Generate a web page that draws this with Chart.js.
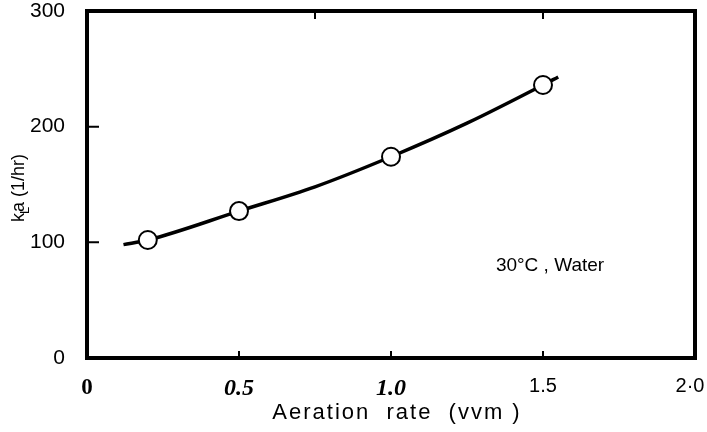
<!DOCTYPE html>
<html>
<head>
<meta charset="utf-8">
<title>kLa vs aeration rate</title>
<script src="https://cdn.jsdelivr.net/npm/chart.js@4/dist/chart.umd.min.js"></script>
<style>
  html, body { margin: 0; padding: 0; background: #fff; }
  #wrap { width: 707px; height: 432px; }
</style>
</head>
<body>
<div id="wrap"><canvas id="chart"></canvas></div>
<script>
// measured points (30 C, water)
var aeration = [0.2, 0.5, 1.0, 1.5];
var kLa = [102, 127, 174, 236];

// fitted curve through the points
var curveX = [0.12, 0.2, 0.5, 0.75, 1.0, 1.25, 1.5, 1.55];
var curveY = [98, 102, 127, 148, 174, 203, 236, 243];

// axis ticks
var xTickValues = [0, 0.5, 1.0, 1.5, 2.0];
var xTickLabels = ['0', '0.5', '1.0', '1.5', '2\u00b70\u2002'];
var yTickValues = [0, 100, 200, 300];

var sans = '"Liberation Sans", Arial, sans-serif';
var serif = '"Liberation Serif", "Times New Roman", serif';

function toXY(xs, ys) {
    var out = [];
    for (var i = 0; i < xs.length; i++) {
        out.push({x: xs[i], y: ys[i]});
    }
    return out;
}

// frame, inward tick marks and the free text
const framePlugin = {
    id: 'frame_and_text',
    afterDraw: (chart) => {
        const ctx = chart.ctx;
        const a = chart.chartArea;
        const xs = chart.scales.x;
        const ys = chart.scales.y;
        ctx.save();
        ctx.strokeStyle = '#000';
        ctx.lineWidth = 4;
        ctx.lineCap = 'square';
        ctx.strokeRect(a.left, a.top, a.right - a.left, a.bottom - a.top);

        ctx.lineWidth = 2;
        ctx.lineCap = 'butt';
        ctx.beginPath();
        [100, 200].forEach(function (v) {
            var py = ys.getPixelForValue(v);
            ctx.moveTo(a.left, py);
            ctx.lineTo(a.left + 12, py);
        });
        [0.5, 1.0, 1.5].forEach(function (v) {
            var px = xs.getPixelForValue(v);
            ctx.moveTo(px, a.bottom);
            ctx.lineTo(px, a.bottom - 7);
        });
        [0.75, 1.5].forEach(function (v) {
            var px = xs.getPixelForValue(v);
            ctx.moveTo(px, a.top);
            ctx.lineTo(px, a.top + 8);
        });
        ctx.stroke();

        ctx.fillStyle = '#000';

        // x axis title
        ctx.letterSpacing = '2px';
        ctx.font = '22px ' + sans;
        ctx.textAlign = 'center';
        ctx.textBaseline = 'middle';
        ctx.fillText('Aeration  rate  (vvm )', (a.left + a.right) / 2 + 6, 413);

        // condition label
        ctx.letterSpacing = '0px';
        ctx.font = '19px ' + sans;
        ctx.textAlign = 'left';
        ctx.fillText('30\u00b0C , Water', xs.getPixelForValue(1.345), ys.getPixelForValue(80));

        // y axis title with subscript L
        ctx.translate(24, 222);
        ctx.rotate(-Math.PI / 2);
        ctx.textBaseline = 'alphabetic';
        ctx.font = '18px ' + sans;
        ctx.fillText('k', 0, 0);
        var kw = ctx.measureText('k').width;
        ctx.font = '13px ' + sans;
        ctx.fillText('L', kw - 1, 5);
        ctx.font = '18px ' + sans;
        ctx.fillText('a (1/hr)', kw + 1, 0);
        ctx.restore();
    }
};

var ctx = document.getElementById('chart').getContext('2d');
var myChart = new Chart(ctx, {
    type: 'scatter',
    data: {
        datasets: [{
            label: 'curve',
            data: toXY(curveX, curveY),
            showLine: true,
            borderColor: '#000',
            borderWidth: 3.5,
            pointRadius: 0,
            cubicInterpolationMode: 'monotone',
            order: 2
        }, {
            label: 'kLa',
            data: toXY(aeration, kLa),
            showLine: false,
            pointRadius: 9,
            pointBackgroundColor: '#fff',
            pointBorderColor: '#000',
            pointBorderWidth: 2,
            order: 1
        }]
    },
    options: {
        responsive: true,
        maintainAspectRatio: false,
        animation: false,
        layout: {
            padding: {top: 11, right: 12, left: 0, bottom: 0}
        },
        scales: {
            x: {
                type: 'linear',
                min: 0,
                max: 2,
                afterFit: function (s) {
                    s.height = 432 - 358;
                    s.paddingLeft = 0;
                    s.paddingRight = 0;
                },
                afterBuildTicks: function (s) {
                    s.ticks = xTickValues.map(function (v) { return {value: v}; });
                },
                grid: {display: false, drawTicks: false},
                border: {display: false},
                ticks: {
                    padding: 16,
                    color: '#000',
                    maxRotation: 0,
                    autoSkip: false,
                    callback: function (value, index) { return xTickLabels[index]; },
                    font: function (c) {
                        var i = c.index;
                        if (i === 0) return {family: serif, size: 23, weight: 'bold'};
                        if (i === 1 || i === 2) return {family: serif, size: 24, weight: 'bold', style: 'italic'};
                        return {family: sans, size: 20};
                    }
                }
            },
            y: {
                min: 0,
                max: 300,
                afterFit: function (s) {
                    s.width = 87;
                    s.paddingTop = 0;
                    s.paddingBottom = 0;
                },
                afterBuildTicks: function (s) {
                    s.ticks = yTickValues.map(function (v) { return {value: v}; });
                },
                grid: {display: false, drawTicks: false},
                border: {display: false},
                ticks: {
                    padding: 22,
                    color: '#000',
                    font: {family: sans, size: 21}
                }
            }
        },
        plugins: {
            legend: {display: false},
            tooltip: {enabled: false}
        }
    },
    plugins: [framePlugin]
});
</script>
</body>
</html>
